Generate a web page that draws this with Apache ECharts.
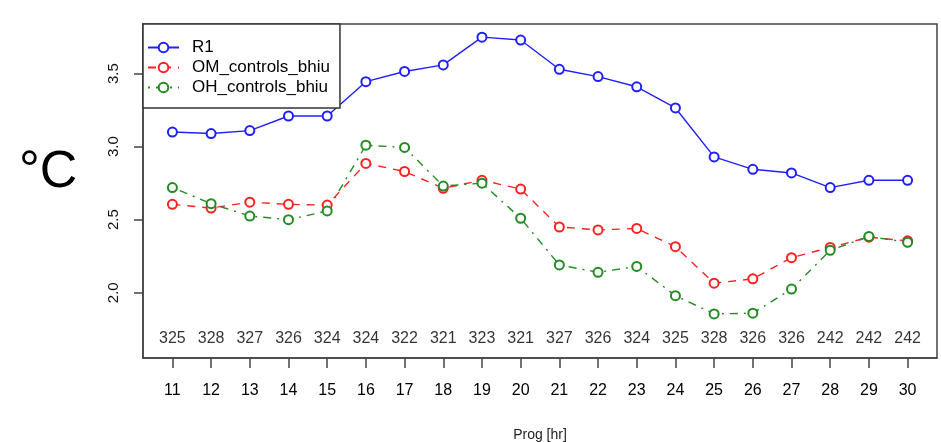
<!DOCTYPE html>
<html>
<head>
<meta charset="utf-8">
<script src="https://cdn.jsdelivr.net/npm/echarts@6/dist/echarts.min.js"></script>
<style>
html,body{margin:0;padding:0;background:#fff;}
#c{width:941px;height:442px;}
</style>
</head>
<body>
<div id="c"></div>
<script>
// ---- data ----
const progHours = [11,12,13,14,15,16,17,18,19,20,21,22,23,24,25,26,27,28,29,30];
const r1 = [3.10,3.09,3.11,3.21,3.21,3.445,3.515,3.56,3.75,3.73,3.53,3.48,3.41,3.265,2.93,2.845,2.82,2.72,2.77,2.77];
const omControls = [2.605,2.58,2.62,2.605,2.60,2.885,2.83,2.715,2.77,2.71,2.45,2.43,2.44,2.315,2.065,2.095,2.24,2.31,2.38,2.355];
const ohControls = [2.72,2.61,2.525,2.50,2.56,3.01,2.995,2.73,2.75,2.51,2.19,2.14,2.18,1.98,1.855,1.86,2.025,2.29,2.385,2.345];
const counts = [325,328,327,326,324,324,322,321,323,321,327,326,324,325,328,326,326,242,242,242];
const yTicks = [2.0,2.5,3.0,3.5];
const seriesNames = ['R1','OM_controls_bhiu','OH_controls_bhiu'];
const countLevel = 1.685;

const pairs = arr => progHours.map((h,i)=>[h,arr[i]]);
const FONT = '"Liberation Sans", Arial, sans-serif';

const chart = echarts.init(document.getElementById('c'), null, {renderer:'canvas'});
chart.setOption({
  animation:false,
  backgroundColor:'#fff',
  graphic:[{
    type:'text', left:19, top:147,
    style:{text:'°C', font:'52px "Liberation Sans", Arial, sans-serif', fill:'#000'}
  }],
  grid:{left:143,right:4,top:24,bottom:84,show:true,borderColor:'#444',borderWidth:1.5,
        backgroundColor:'transparent',outerBoundsMode:'none',containLabel:false},
  legend:{
    orient:'vertical', left:143, top:24,
    data:seriesNames,
    borderColor:'#333', borderWidth:1.5, backgroundColor:'#fff',
    padding:[15,10,12,4],
    itemWidth:31, itemHeight:12, itemGap:3,
    textStyle:{fontFamily:FONT,fontSize:17,lineHeight:17,color:'#000',padding:[0,0,0,8]}
  },
  xAxis:{
    type:'value', min:10.24, max:30.76,
    name:'Prog [hr]', nameLocation:'middle', nameGap:70,
    nameTextStyle:{fontFamily:FONT,fontSize:14,color:'#222'},
    splitLine:{show:false},
    axisLine:{show:true,onZero:false,lineStyle:{color:'#444',width:1.5}},
    axisTick:{show:true,length:10,customValues:progHours,lineStyle:{color:'#444',width:1.5}},
    axisLabel:{customValues:progHours,margin:25,fontFamily:FONT,fontSize:16,color:'#000'}
  },
  yAxis:{
    type:'value', min:1.553, max:3.84,
    splitLine:{show:false},
    axisLine:{show:true,lineStyle:{color:'#444',width:1.5}},
    axisTick:{show:true,length:9,customValues:yTicks,lineStyle:{color:'#444',width:1.5}},
    axisLabel:{customValues:yTicks,rotate:90,margin:22,fontFamily:FONT,fontSize:15,color:'#111',
      formatter:v=>Number(v).toFixed(1)}
  },
  series:[
    {name:seriesNames[0],type:'line',data:pairs(r1),symbol:'emptyCircle',symbolSize:9,
     lineStyle:{color:'#2020ff',width:1.4,type:'solid'},
     itemStyle:{color:'#2020ff',borderWidth:1.8}},
    {name:seriesNames[1],type:'line',data:pairs(omControls),symbol:'emptyCircle',symbolSize:9,
     lineStyle:{color:'#ff2020',width:1.4,type:[8,7]},
     itemStyle:{color:'#ff2020',borderWidth:1.8}},
    {name:seriesNames[2],type:'line',data:pairs(ohControls),symbol:'emptyCircle',symbolSize:9,
     lineStyle:{color:'#228B22',width:1.4,type:[2,6,8,6]},
     itemStyle:{color:'#228B22',borderWidth:1.8}},
    {name:'counts',type:'scatter',symbolSize:0,silent:true,
     data:progHours.map((h,i)=>({value:[h,countLevel],label:{formatter:String(counts[i])}})),
     label:{show:true,position:'inside',fontFamily:FONT,fontSize:16,color:'#000'}}
  ]
});
</script>
</body>
</html>
